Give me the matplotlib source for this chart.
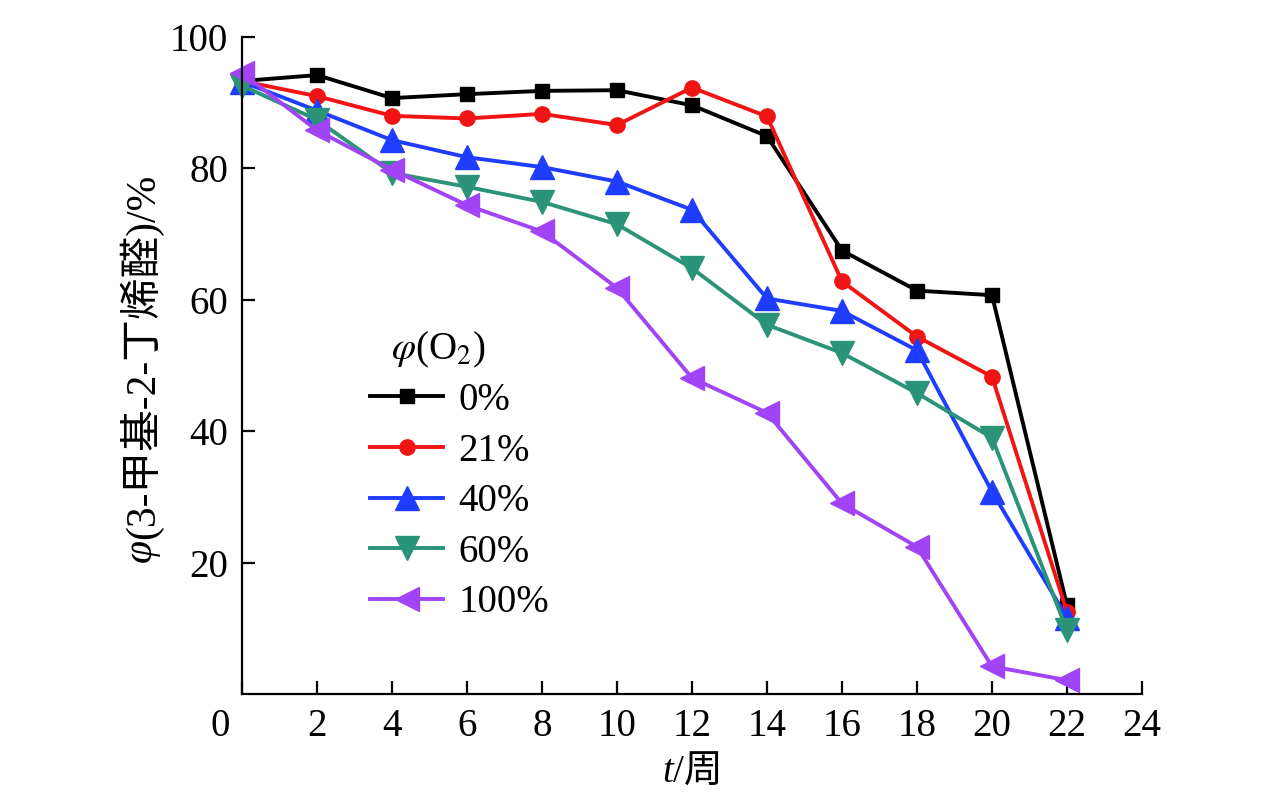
import matplotlib
matplotlib.use("Agg")
from matplotlib import pyplot as plt

plt.rcParams['font.family'] = ['Liberation Serif', 'Noto Sans CJK SC']
plt.rcParams['mathtext.fontset'] = 'stix'
plt.rcParams['font.size'] = 28

weeks = [0, 2, 4, 6, 8, 10, 12, 14, 16, 18, 20, 22]
o2_labels = ['0%', '21%', '40%', '60%', '100%']
o2_0 = [93.3, 94.2, 90.7, 91.3, 91.8, 91.9, 89.6, 84.9, 67.5, 61.4, 60.7, 13.5]
o2_21 = [93.3, 91.0, 88.0, 87.6, 88.3, 86.6, 92.3, 87.9, 62.8, 54.4, 48.3, 12.5]
o2_40 = [93.2, 88.8, 84.3, 81.7, 80.2, 78.0, 73.7, 60.2, 58.3, 52.3, 30.8, 11.6]
o2_60 = [92.6, 87.4, 79.3, 77.2, 74.9, 71.5, 64.8, 56.2, 51.9, 45.8, 39.0, 9.7]
o2_100 = [94.5, 85.8, 79.8, 74.4, 70.4, 61.8, 48.1, 42.8, 29.0, 22.4, 4.2, 2.1]

series = [o2_0, o2_21, o2_40, o2_60, o2_100]
colors = ['#000000', '#f01414', '#1e3dff', '#2b9377', '#a044f5']
markers = ['s', 'o', '^', 'v', '<']
msizes = [10, 11, 17, 17, 17]

fig = plt.figure(figsize=(12.76, 8.02), dpi=100)
ax = fig.add_axes([242/1276, 108/802, 900/1276, 657/802])

for ys, c, m, ms, lab in zip(series, colors, markers, msizes, o2_labels):
	ax.plot(weeks, ys, color=c, marker=m, markersize=ms, lw=2.8, label=lab, clip_on=False)

ax.set_xlim(0, 24)
ax.set_ylim(0, 100)
ax.set_xticks(range(0, 25, 2))
ax.set_xticklabels([''] + [str(v) for v in range(2, 25, 2)])
ax.set_yticks([20, 40, 60, 80, 100])
ax.tick_params(direction='in', length=9.5, width=1.6, pad=10)
ax.spines['top'].set_visible(False)
ax.spines['right'].set_visible(False)
ax.spines['left'].set_linewidth(1.6)
ax.spines['bottom'].set_linewidth(1.6)

# origin label sits a bit left of the corner
ax.annotate('0', xy=(0, 0), xycoords='data', xytext=(-16, -10),
	textcoords='offset points', ha='center', va='top')

ax.legend(frameon=False, loc='upper left',
	bbox_to_anchor=(370/1276, 1 - 382/802), bbox_transform=fig.transFigure,
	borderpad=0, borderaxespad=0, handlelength=1.88, labelspacing=0.35, handletextpad=0.4)
fig.text(438/1276, 1 - 350/802, r'$\varphi$(O$_2$)', ha='center', va='center')

# axis labels built from pieces so the symbol can be italic
fig.canvas.draw()
r = fig.canvas.get_renderer()

y_phi = fig.text(141/1276, 1 - 562/802, 'φ', rotation=90, style='italic',
	ha='center', va='bottom', fontsize=30)
h = y_phi.get_window_extent(r).height
fig.text(141/1276, 1 - (562 - h)/802, '(3-甲基-2-丁烯醛)/%', rotation=90,
	ha='center', va='bottom', fontsize=30)

x_t = fig.text(662/1276, 1 - 773/802, 't', style='italic', ha='left', va='center')
w = x_t.get_window_extent(r).width
fig.text((662 + w)/1276, 1 - 773/802, '/周', ha='left', va='center')

fig.savefig('out.png', dpi=100)
